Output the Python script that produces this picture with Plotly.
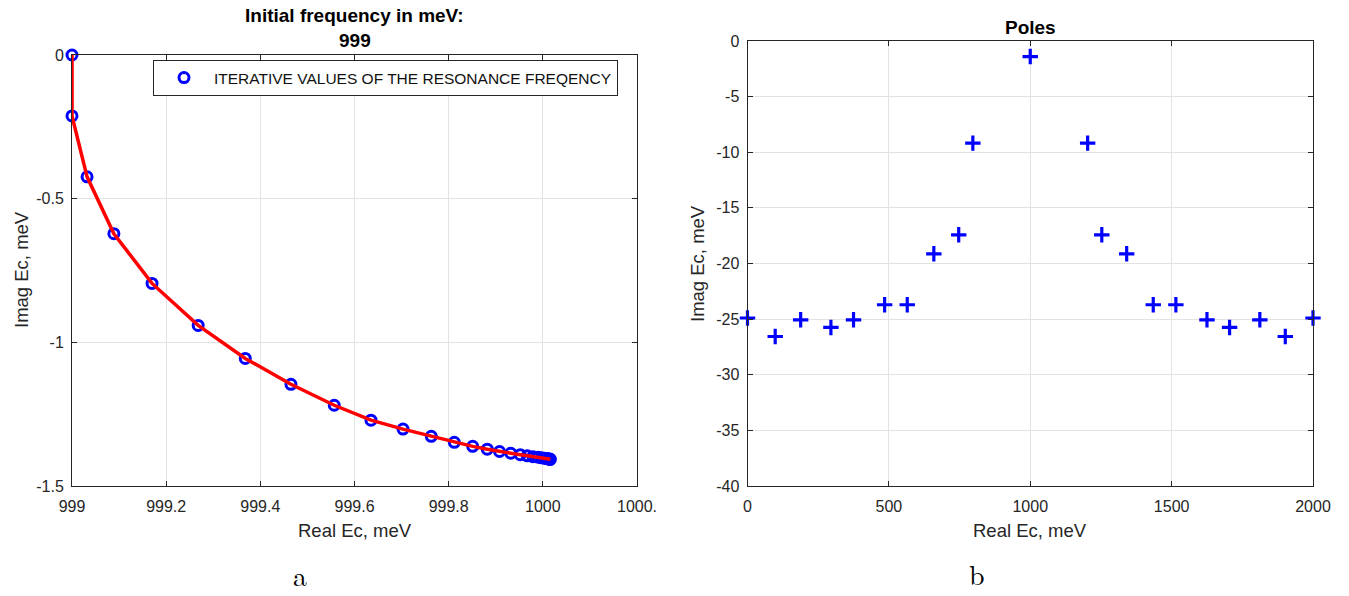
import plotly.graph_objects as go

# ---------------- data ----------------
iter_real = [999.000, 999.000, 999.032, 999.089, 999.170, 999.268, 999.368, 999.465,
             999.557, 999.635, 999.703, 999.763, 999.812, 999.851, 999.882, 999.908,
             999.932, 999.952, 999.967, 999.979, 999.990, 999.997, 1000.003, 1000.007,
             1000.010, 1000.012, 1000.014, 1000.015, 1000.016]
iter_imag = [0.0, -0.212, -0.424, -0.622, -0.795, -0.941, -1.056, -1.146,
             -1.219, -1.271, -1.302, -1.327, -1.348, -1.362, -1.372, -1.380,
             -1.386, -1.391, -1.395, -1.398, -1.400, -1.402, -1.403, -1.404,
             -1.405, -1.406, -1.406, -1.407, -1.407]

poles_real = [0, 98, 188, 295, 375, 485, 565, 659, 747, 797, 1000,
              1203, 1253, 1341, 1435, 1515, 1625, 1705, 1812, 1902, 2000]
poles_imag = [-24.9, -26.56, -25.06, -25.75, -25.06, -23.71, -23.71, -19.13, -17.42, -9.18, -1.40,
              -9.18, -17.42, -19.13, -23.71, -23.71, -25.06, -25.75, -25.06, -26.56, -24.9]

left_xticks = [999, 999.2, 999.4, 999.6, 999.8, 1000, 1000.2]
left_xticktext = ["999", "999.2", "999.4", "999.6", "999.8", "1000", "1000."]
left_yticks = [0, -0.5, -1, -1.5]
left_yticktext = ["0", "-0.5", "-1", "-1.5"]
right_xticks = [0, 500, 1000, 1500, 2000]
right_yticks = [0, -5, -10, -15, -20, -25, -30, -35, -40]
right_yticktext = ["0", "-5", "-10", "-15", "-20", "-25", "-30", "-35", "-40"]

legend_name = "ITERATIVE VALUES OF THE RESONANCE FREQENCY"

# ---------------- figure ----------------
W, H = 1349, 596
FONT = "Liberation Sans, Arial, Helvetica, sans-serif"
AX = "#262626"
GRID = "#e3e3e3"

def px_x(p):
    return p / W

def px_y(p):
    return 1 - p / H

fig = go.Figure()

fig.add_trace(go.Scatter(
    x=iter_real, y=iter_imag, mode="markers", name=legend_name,
    marker=dict(symbol="circle-open", size=10, color="#0000ff",
                line=dict(width=3, color="#0000ff")),
    xaxis="x", yaxis="y", cliponaxis=False, showlegend=True))
fig.add_trace(go.Scatter(
    x=iter_real, y=iter_imag, mode="lines", name="fit",
    line=dict(color="#ff0000", width=3.5),
    xaxis="x", yaxis="y", cliponaxis=False, showlegend=False))
fig.add_trace(go.Scatter(
    x=poles_real, y=poles_imag, mode="markers", name="Poles",
    marker=dict(symbol="cross-thin", size=11, color="#0000ff",
                line=dict(width=3.2, color="#0000ff")),
    xaxis="x2", yaxis="y2", cliponaxis=False, showlegend=False))

common = dict(showline=True, linecolor=AX, linewidth=1, mirror="ticks",
              ticks="inside", ticklen=5, tickcolor=AX, tickwidth=1,
              showgrid=True, gridcolor=GRID, gridwidth=1, zeroline=False,
              automargin=False,
              tickfont=dict(family=FONT, size=16, color=AX), tickmode="array")

fig.update_layout(
    width=W, height=H, margin=dict(l=0, r=0, t=0, b=0),
    paper_bgcolor="white", plot_bgcolor="white",
    xaxis=dict(domain=[px_x(72), px_x(637)], range=[999, 1000.2],
               tickvals=left_xticks, ticktext=left_xticktext,
               anchor="y", ticklabelstandoff=6, **common),
    yaxis=dict(domain=[px_y(486), px_y(55)], range=[-1.5, 0],
               tickvals=left_yticks, ticktext=left_yticktext,
               anchor="x", ticklabelstandoff=4, **common),
    xaxis2=dict(domain=[px_x(747.5), px_x(1313)], range=[0, 2000],
                tickvals=right_xticks, ticktext=[str(v) for v in right_xticks],
                anchor="y2", ticklabelstandoff=6, **common),
    yaxis2=dict(domain=[px_y(486), px_y(41)], range=[-40, 0],
                tickvals=right_yticks, ticktext=right_yticktext,
                anchor="x2", ticklabelstandoff=4, **common),
    legend=dict(x=px_x(153), y=px_y(78), xanchor="left", yanchor="middle",
                bgcolor="white", bordercolor=AX, borderwidth=1,
                font=dict(family=FONT, size=15.5, color="#111111"),
                itemwidth=50),
    showlegend=True,
)

def ann(text, x, y, size, bold=False, angle=0, family=FONT, color="#000000"):
    fig.add_annotation(text=("<b>%s</b>" % text) if bold else text,
                       x=px_x(x), y=px_y(y), xref="paper", yref="paper",
                       showarrow=False, xanchor="center", yanchor="middle",
                       textangle=angle, font=dict(family=family, size=size, color=color))

ann("Initial frequency in meV:", 354.5, 16, 19, bold=True)
ann("999", 354.5, 40, 19, bold=True)
ann("Poles", 1030, 27, 19, bold=True)
ann("Real Ec, meV", 354.5, 530, 18.5, color=AX)
ann("Real Ec, meV", 1030, 530, 18.5, color=AX)
ann("Imag Ec, meV", 21, 270, 18.5, angle=-90, color=AX)
ann("Imag Ec, meV", 697, 264, 18.5, angle=-90, color=AX)
ann("a", 300, 574, 28, family="Latin Modern Roman, DejaVu Serif, Liberation Serif, serif")
ann("b", 977, 573, 28, family="Latin Modern Roman, DejaVu Serif, Liberation Serif, serif")

fig.write_html("out.html")
